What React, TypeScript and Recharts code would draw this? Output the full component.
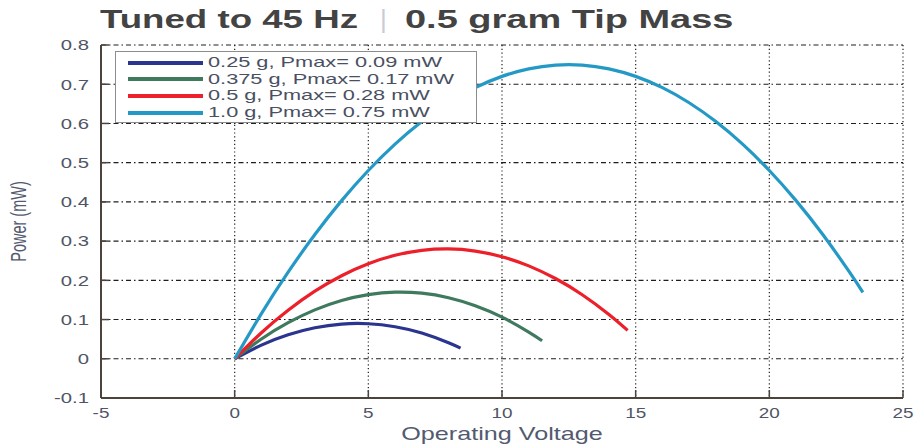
import React from 'react';
import { LineChart, Line, XAxis, YAxis, CartesianGrid, Legend } from 'recharts';

// operating voltage (V) and harvested power (mW) for each tip mass
const voltage025 = [0, 1, 2, 3, 4, 5, 6, 7, 8, 8.45];
const power025 = [0, 0.0349, 0.0612, 0.0791, 0.0885, 0.0893, 0.0817, 0.0655, 0.0408, 0.027];

const voltage0375 = [0, 1, 2, 3, 4, 5, 6, 7, 8, 9, 10, 11, 11.5];
const power0375 = [0, 0.0504, 0.092, 0.1247, 0.1486, 0.1636, 0.1698, 0.1672, 0.1557, 0.1353, 0.1061, 0.0681, 0.0458];

const voltage05 = [0, 1, 2, 3, 4, 5, 6, 7, 8, 9, 10, 11, 12, 13, 14, 14.7];
const power05 = [0, 0.0664, 0.1238, 0.1723, 0.2118, 0.2423, 0.2638, 0.2764, 0.28, 0.2746, 0.2602, 0.2369, 0.2046, 0.1633, 0.1131, 0.0725];

const voltage10 = [0, 1, 2, 3, 4, 5, 6, 7, 8, 9, 10, 11, 12, 13, 14, 15, 16, 17, 18, 19, 20, 21, 22, 23, 23.5];
const power10 = [
  0, 0.1152, 0.2208, 0.3168, 0.4032, 0.48, 0.5472, 0.6048, 0.6528, 0.6912, 0.72, 0.7392, 0.7488,
  0.7488, 0.7392, 0.72, 0.6912, 0.6528, 0.6048, 0.5472, 0.48, 0.4032, 0.3168, 0.2208, 0.1692,
];

const seriesNames = [
  '0.25 g, Pmax= 0.09 mW',
  '0.375 g, Pmax= 0.17 mW',
  '0.5 g, Pmax= 0.28 mW',
  '1.0 g, Pmax= 0.75 mW',
];
const seriesColors = ['#2b3590', '#3f7a5e', '#ec1f2a', '#2599c6'];

const xTicks = [-5, 0, 5, 10, 15, 20, 25];
const yTicks = [-0.1, 0, 0.1, 0.2, 0.3, 0.4, 0.5, 0.6, 0.7, 0.8];

const toPoints = (vs: number[], ps: number[]) => vs.map((v, i) => ({ v, p: ps[i] }));

const series = [
  toPoints(voltage025, power025),
  toPoints(voltage0375, power0375),
  toPoints(voltage05, power05),
  toPoints(voltage10, power10),
];

const FONT = '"Liberation Sans", Arial, Helvetica, sans-serif';
const TICK_COLOR = '#4f5466';
const FRAME = '#4a443c';

const YTick = (props: any) => {
  const { x, y, payload } = props;
  return (
    <text
      transform={`translate(${x},${y}) scale(1.45,1)`}
      textAnchor="end"
      dy="0.38em"
      fontSize={14}
      fontFamily={FONT}
      fill={TICK_COLOR}
    >
      {payload.value}
    </text>
  );
};

const XTick = (props: any) => {
  const { x, y, payload } = props;
  return (
    <text
      transform={`translate(${x},${y}) scale(1.35,1)`}
      textAnchor="middle"
      dy="0.71em"
      fontSize={14}
      fontFamily={FONT}
      fill={TICK_COLOR}
    >
      {payload.value}
    </text>
  );
};

const NoTick = () => <g />;

const renderXTitle = (props: any) => {
  const vb = props.viewBox;
  return (
    <text
      transform={`translate(${vb.x + vb.width / 2},${vb.y + 42}) scale(1.4,1)`}
      textAnchor="middle"
      fontSize={18}
      fontFamily={FONT}
      fill="#535a70"
    >
      Operating Voltage
    </text>
  );
};

const renderYTitle = (props: any) => {
  const vb = props.viewBox;
  return (
    <text
      transform={`translate(${vb.x + 26},${vb.y + vb.height / 2}) scale(1.5,1) rotate(-90)`}
      textAnchor="middle"
      fontSize={14.5}
      fontFamily={FONT}
      fill="#535a70"
    >
      Power (mW)
    </text>
  );
};

const renderLegend = (props: any) => {
  const items = props.payload || [];
  return (
    <div
      style={{
        position: 'relative',
        width: 362,
        height: 72,
        boxSizing: 'border-box',
        border: '1px solid #8c8c8c',
        background: '#fff',
      }}
    >
      {items.map((item: any, i: number) => (
        <div
          key={item.value}
          style={{ position: 'absolute', left: 0, top: 2 + i * 16.7, height: 16.7, width: 360 }}
        >
          <div
            style={{
              position: 'absolute',
              left: 12,
              top: 6.5,
              width: 75,
              height: 4,
              background: item.color,
            }}
          />
          <span
            style={{
              position: 'absolute',
              left: 92,
              top: -1,
              fontFamily: FONT,
              fontSize: 15,
              lineHeight: '18px',
              color: '#4a5062',
              whiteSpace: 'nowrap',
              transform: 'scaleX(1.45)',
              transformOrigin: 'left center',
            }}
          >
            {item.value}
          </span>
        </div>
      ))}
    </div>
  );
};

export default function App() {
  return (
    <div style={{ position: 'absolute', left: 0, top: 0, width: 918, height: 448, background: '#fff' }}>
      <div
        style={{
          position: 'absolute',
          left: 100,
          top: 4,
          fontFamily: FONT,
          fontWeight: 'bold',
          fontSize: 26,
          lineHeight: '30px',
          color: '#434343',
          whiteSpace: 'nowrap',
          transform: 'scaleX(1.41)',
          transformOrigin: 'left top',
        }}
      >
        Tuned to 45 Hz
      </div>
      <div
        style={{
          position: 'absolute',
          left: 380,
          top: 4,
          fontFamily: FONT,
          fontSize: 26,
          lineHeight: '30px',
          color: '#c9ccd4',
        }}
      >
        |
      </div>
      <div
        style={{
          position: 'absolute',
          left: 405,
          top: 4,
          fontFamily: FONT,
          fontWeight: 'bold',
          fontSize: 26,
          lineHeight: '30px',
          color: '#434343',
          whiteSpace: 'nowrap',
          transform: 'scaleX(1.46)',
          transformOrigin: 'left top',
        }}
      >
        0.5 gram Tip Mass
      </div>
      <LineChart width={918} height={448} margin={{ top: 45, right: 15, bottom: 0, left: 0 }}>
        <CartesianGrid horizontal={false} vertical stroke="#1e1e1e" strokeWidth={1.2} strokeDasharray="1.2 2.6" />
        <CartesianGrid horizontal vertical={false} stroke="#1e1e1e" strokeWidth={1.1} strokeDasharray="5 3 1.5 3" />
        <XAxis
          dataKey="v"
          type="number"
          domain={[-5, 25]}
          ticks={xTicks}
          interval={0}
          height={50}
          allowDuplicatedCategory={false}
          axisLine={{ stroke: FRAME, strokeWidth: 2 }}
          tickLine={{ stroke: FRAME, strokeWidth: 1.5 }}
          tickSize={-8}
          tickMargin={18}
          tick={XTick}
          label={renderXTitle}
        />
        <XAxis
          xAxisId="top"
          orientation="top"
          dataKey="v"
          type="number"
          domain={[-5, 25]}
          ticks={xTicks}
          interval={0}
          height={0}
          axisLine={{ stroke: FRAME, strokeWidth: 2 }}
          tickLine={{ stroke: FRAME, strokeWidth: 1.5 }}
          tickSize={-8}
          tick={NoTick}
        />
        <YAxis
          type="number"
          domain={[-0.1, 0.8]}
          ticks={yTicks}
          interval={0}
          width={101}
          axisLine={{ stroke: FRAME, strokeWidth: 2 }}
          tickLine={{ stroke: FRAME, strokeWidth: 1.5 }}
          tickSize={-8}
          tickMargin={20}
          tick={YTick}
          label={renderYTitle}
        />
        <YAxis
          yAxisId="right"
          orientation="right"
          type="number"
          domain={[-0.1, 0.8]}
          ticks={yTicks}
          interval={0}
          width={0}
          axisLine={{ stroke: FRAME, strokeWidth: 2 }}
          tickLine={{ stroke: FRAME, strokeWidth: 1.5 }}
          tickSize={-8}
          tick={NoTick}
        />
        <Legend
          layout="vertical"
          align="center"
          verticalAlign="middle"
          wrapperStyle={{ left: 115, top: 51, width: 362, height: 72 }}
          content={renderLegend}
        />
        {series.map((data, i) => (
          <Line
            key={seriesNames[i]}
            data={data}
            dataKey="p"
            name={seriesNames[i]}
            type="natural"
            stroke={seriesColors[i]}
            strokeWidth={3.2}
            dot={false}
            activeDot={false}
            isAnimationActive={false}
          />
        ))}
      </LineChart>
    </div>
  );
}
